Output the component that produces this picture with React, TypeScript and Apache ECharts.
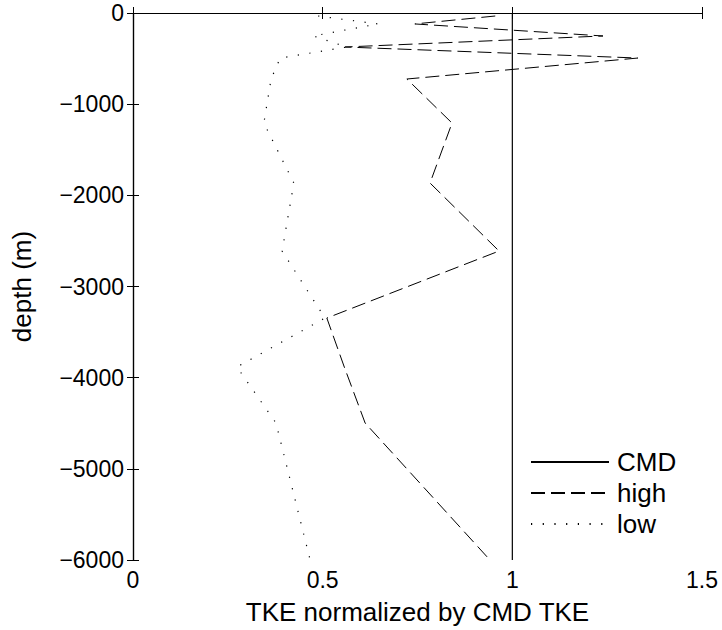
import React, { useEffect, useRef } from "react";
import * as echarts from "echarts";

const depths = [-33, -120, -252, -373, -494, -724, -1207, -1865, -2611, -3346, -3883, -4498, -6000];
const highValues = [0.955, 0.743, 1.239, 0.559, 1.331, 0.722, 0.841, 0.783, 0.965, 0.511, 0.557, 0.612, 0.941];
const lowValues = [0.488, 0.646, 0.475, 0.564, 0.388, 0.364, 0.345, 0.424, 0.393, 0.506, 0.274, 0.377, 0.467];
const cmdDepths = [0, -6000];
const cmdValues = [1, 1];
const seriesNames = ["CMD", "high", "low"];

const FONT = "Liberation Sans, Arial, Helvetica, sans-serif";

export default function App() {
  const ref = useRef<HTMLDivElement>(null);
  useEffect(() => {
    if (!ref.current) return;
    const chart = echarts.init(ref.current, null, { renderer: "svg" });
    const fmtY = (v: number) => (v < 0 ? "\u2212" + Math.abs(v) : String(v));
    const axisCommon = {
      axisLine: { show: true, lineStyle: { color: "#000", width: 1.2 } },
      axisTick: { show: true, inside: true, length: 6, lineStyle: { color: "#000", width: 1 } },
      splitLine: { show: false },
    };
    chart.setOption({
      animation: false,
      backgroundColor: "#fff",
      grid: { left: 133, top: 13, right: 20, bottom: 70 },
      xAxis: [
        {
          type: "value",
          min: 0,
          max: 1.5,
          interval: 0.5,
          position: "bottom",
          ...axisCommon,
          axisLabel: { color: "#000", fontSize: 23, fontFamily: FONT, margin: 8 },
          name: "TKE normalized by CMD TKE",
          nameLocation: "middle",
          nameGap: 39,
          nameTextStyle: { color: "#000", fontSize: 26, fontFamily: FONT },
        },
        {
          type: "value",
          min: 0,
          max: 1.5,
          interval: 0.5,
          position: "top",
          ...axisCommon,
          axisLabel: { show: false },
        },
      ],
      yAxis: [
        {
          type: "value",
          min: -6000,
          max: 0,
          interval: 1000,
          position: "left",
          ...axisCommon,
          axisLabel: { color: "#000", fontSize: 23, fontFamily: FONT, margin: 9, formatter: fmtY },
          name: "depth (m)",
          nameLocation: "middle",
          nameGap: 98,
          nameTextStyle: { color: "#000", fontSize: 26, fontFamily: FONT },
        },
        {
          type: "value",
          min: -6000,
          max: 0,
          interval: 1000,
          position: "right",
          ...axisCommon,
          axisLabel: { show: false },
        },
      ],
      legend: {
        orient: "vertical",
        left: 525,
        top: 444,
        itemWidth: 78,
        itemHeight: 14,
        itemGap: 5,
        data: seriesNames,
        itemStyle: { color: "rgba(0,0,0,0)", borderWidth: 0, opacity: 0 },
        textStyle: { color: "#000", fontSize: 26, fontFamily: FONT, padding: [0, 0, 0, 3] },
      },
      series: [
        {
          name: seriesNames[0],
          type: "line",
          symbol: "none",
          data: cmdDepths.map((d, i) => [cmdValues[i], d]),
          lineStyle: { color: "#000", width: 1.2, type: "solid" },
          itemStyle: { color: "#000" },
        },
        {
          name: seriesNames[1],
          type: "line",
          symbol: "none",
          data: depths.map((d, i) => [highValues[i], d]),
          lineStyle: { color: "#000", width: 1, type: [14, 6] },
          itemStyle: { color: "#000" },
        },
        {
          name: seriesNames[2],
          type: "line",
          symbol: "none",
          data: depths.map((d, i) => [lowValues[i], d]),
          lineStyle: { color: "#000", width: 1.2, type: [1.2, 10.5] },
          itemStyle: { color: "#000" },
        },
      ],
    });
    return () => chart.dispose();
  }, []);
  return (
    <div
      ref={ref}
      style={{ width: 722, height: 630, position: "absolute", left: 0, top: 0 }}
    />
  );
}
